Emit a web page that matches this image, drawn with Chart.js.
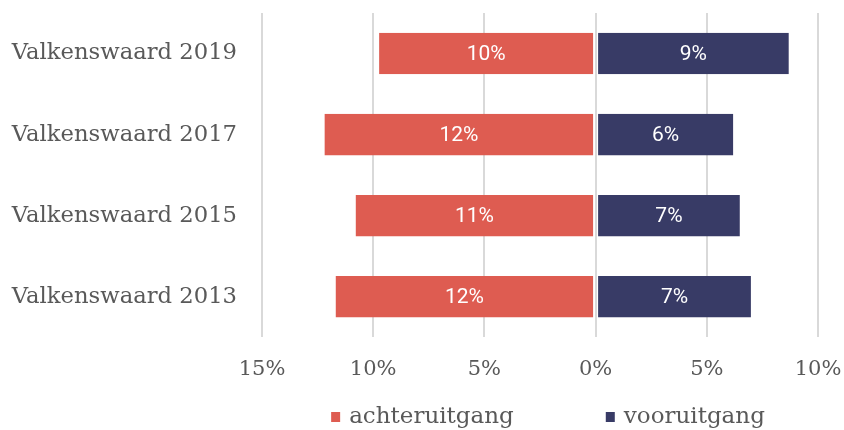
<!DOCTYPE html>
<html>
<head>
<meta charset="utf-8">
<script src="https://cdn.jsdelivr.net/npm/chart.js@4"></script>
<style>
  html, body { margin: 0; padding: 0; background: #fff; }
  #wrap { width: 844px; height: 430px; }
</style>
</head>
<body>
<div id="wrap"><canvas id="grafico"></canvas></div>
<script>
// categorieen en waarden (procent)
const categorieen = ['Valkenswaard 2019', 'Valkenswaard 2017', 'Valkenswaard 2015', 'Valkenswaard 2013'];
const achteruitgang = [-9.8, -12.25, -10.85, -11.75];
const vooruitgang = [8.75, 6.25, 6.55, 7.05];
const tickWaarden = [-15, -10, -5, 0, 5, 10];

const serif = '"DejaVu Serif", serif';
const grijs = '#595959';

// labels in de balken
const balkLabels = {
    id: 'balkLabels',
    afterDatasetsDraw(chart) {
        const ctx = chart.ctx;
        ctx.save();
        ctx.fillStyle = '#ffffff';
        ctx.font = '21px Roboto, sans-serif';
        ctx.textAlign = 'center';
        ctx.textBaseline = 'middle';
        chart.data.datasets.forEach((ds, i) => {
            chart.getDatasetMeta(i).data.forEach((bar, j) => {
                const v = ds.data[j];
                const x = (bar.x + bar.base) / 2;
                ctx.fillText(Math.round(Math.abs(v)) + '%', x, bar.y + 1);
            });
        });
        ctx.restore();
    }
};

// legenda onderaan, met ruime afstand tussen de items
const legenda = {
    id: 'legenda',
    afterDraw(chart) {
        const ctx = chart.ctx;
        const area = chart.chartArea;
        const box = 9, gapTekst = 9, gapItem = 92;
        ctx.save();
        ctx.font = '23px ' + serif;
        ctx.textBaseline = 'alphabetic';
        ctx.textAlign = 'left';
        const items = chart.data.datasets.map(ds => ({
            tekst: ds.label,
            kleur: ds.backgroundColor,
            breedte: box + gapTekst + ctx.measureText(ds.label).width
        }));
        const totaal = items.reduce((s, it) => s + it.breedte, 0) + gapItem * (items.length - 1);
        let x = (area.left + area.right) / 2 + 8 - totaal / 2;
        const y = 423;
        items.forEach(it => {
            ctx.fillStyle = it.kleur;
            ctx.fillRect(x, y - 11, box, box + 1);
            ctx.fillStyle = grijs;
            ctx.fillText(it.tekst, x + box + gapTekst, y);
            x += it.breedte + gapItem;
        });
        ctx.restore();
    }
};

new Chart(document.querySelector('#grafico'), {
    type: 'bar',
    data: {
        labels: categorieen,
        datasets: [
            {
                label: 'achteruitgang',
                data: achteruitgang,
                backgroundColor: '#DE5C51',
                borderColor: 'rgba(0,0,0,0)',
                borderWidth: { left: 1.5, right: 1.5, top: 0, bottom: 0 },
                borderSkipped: false
            },
            {
                label: 'vooruitgang',
                data: vooruitgang,
                backgroundColor: '#383B66',
                borderColor: 'rgba(0,0,0,0)',
                borderWidth: { left: 1.5, right: 1.5, top: 0, bottom: 0 },
                borderSkipped: false
            }
        ]
    },
    options: {
        indexAxis: 'y',
        responsive: true,
        maintainAspectRatio: false,
        animation: false,
        layout: { padding: { top: 13, right: 26, left: 0, bottom: 27.5 } },
        datasets: { bar: { barPercentage: 0.513, categoryPercentage: 1 } },
        plugins: {
            tooltip: { enabled: false },
            legend: { display: false }
        },
        scales: {
            x: {
                stacked: true,
                min: -15,
                max: 10,
                afterBuildTicks: axis => { axis.ticks = tickWaarden.map(v => ({ value: v })); },
                afterFit: axis => { axis.paddingLeft = 0; axis.paddingRight = 0; },
                grid: { color: '#D9D9D9', lineWidth: 2, drawTicks: false },
                border: { display: false },
                ticks: {
                    color: grijs,
                    font: { family: serif, size: 21 },
                    padding: 20,
                    callback: v => Math.abs(v) + '%'
                }
            },
            y: {
                stacked: true,
                afterFit: axis => { axis.width = 262; axis.paddingTop = 0; axis.paddingBottom = 0; },
                grid: { display: false, drawTicks: false },
                border: { display: false },
                ticks: {
                    color: grijs,
                    font: { family: serif, size: 22.7 },
                    padding: 25
                }
            }
        }
    },
    plugins: [balkLabels, legenda]
});
</script>
</body>
</html>
